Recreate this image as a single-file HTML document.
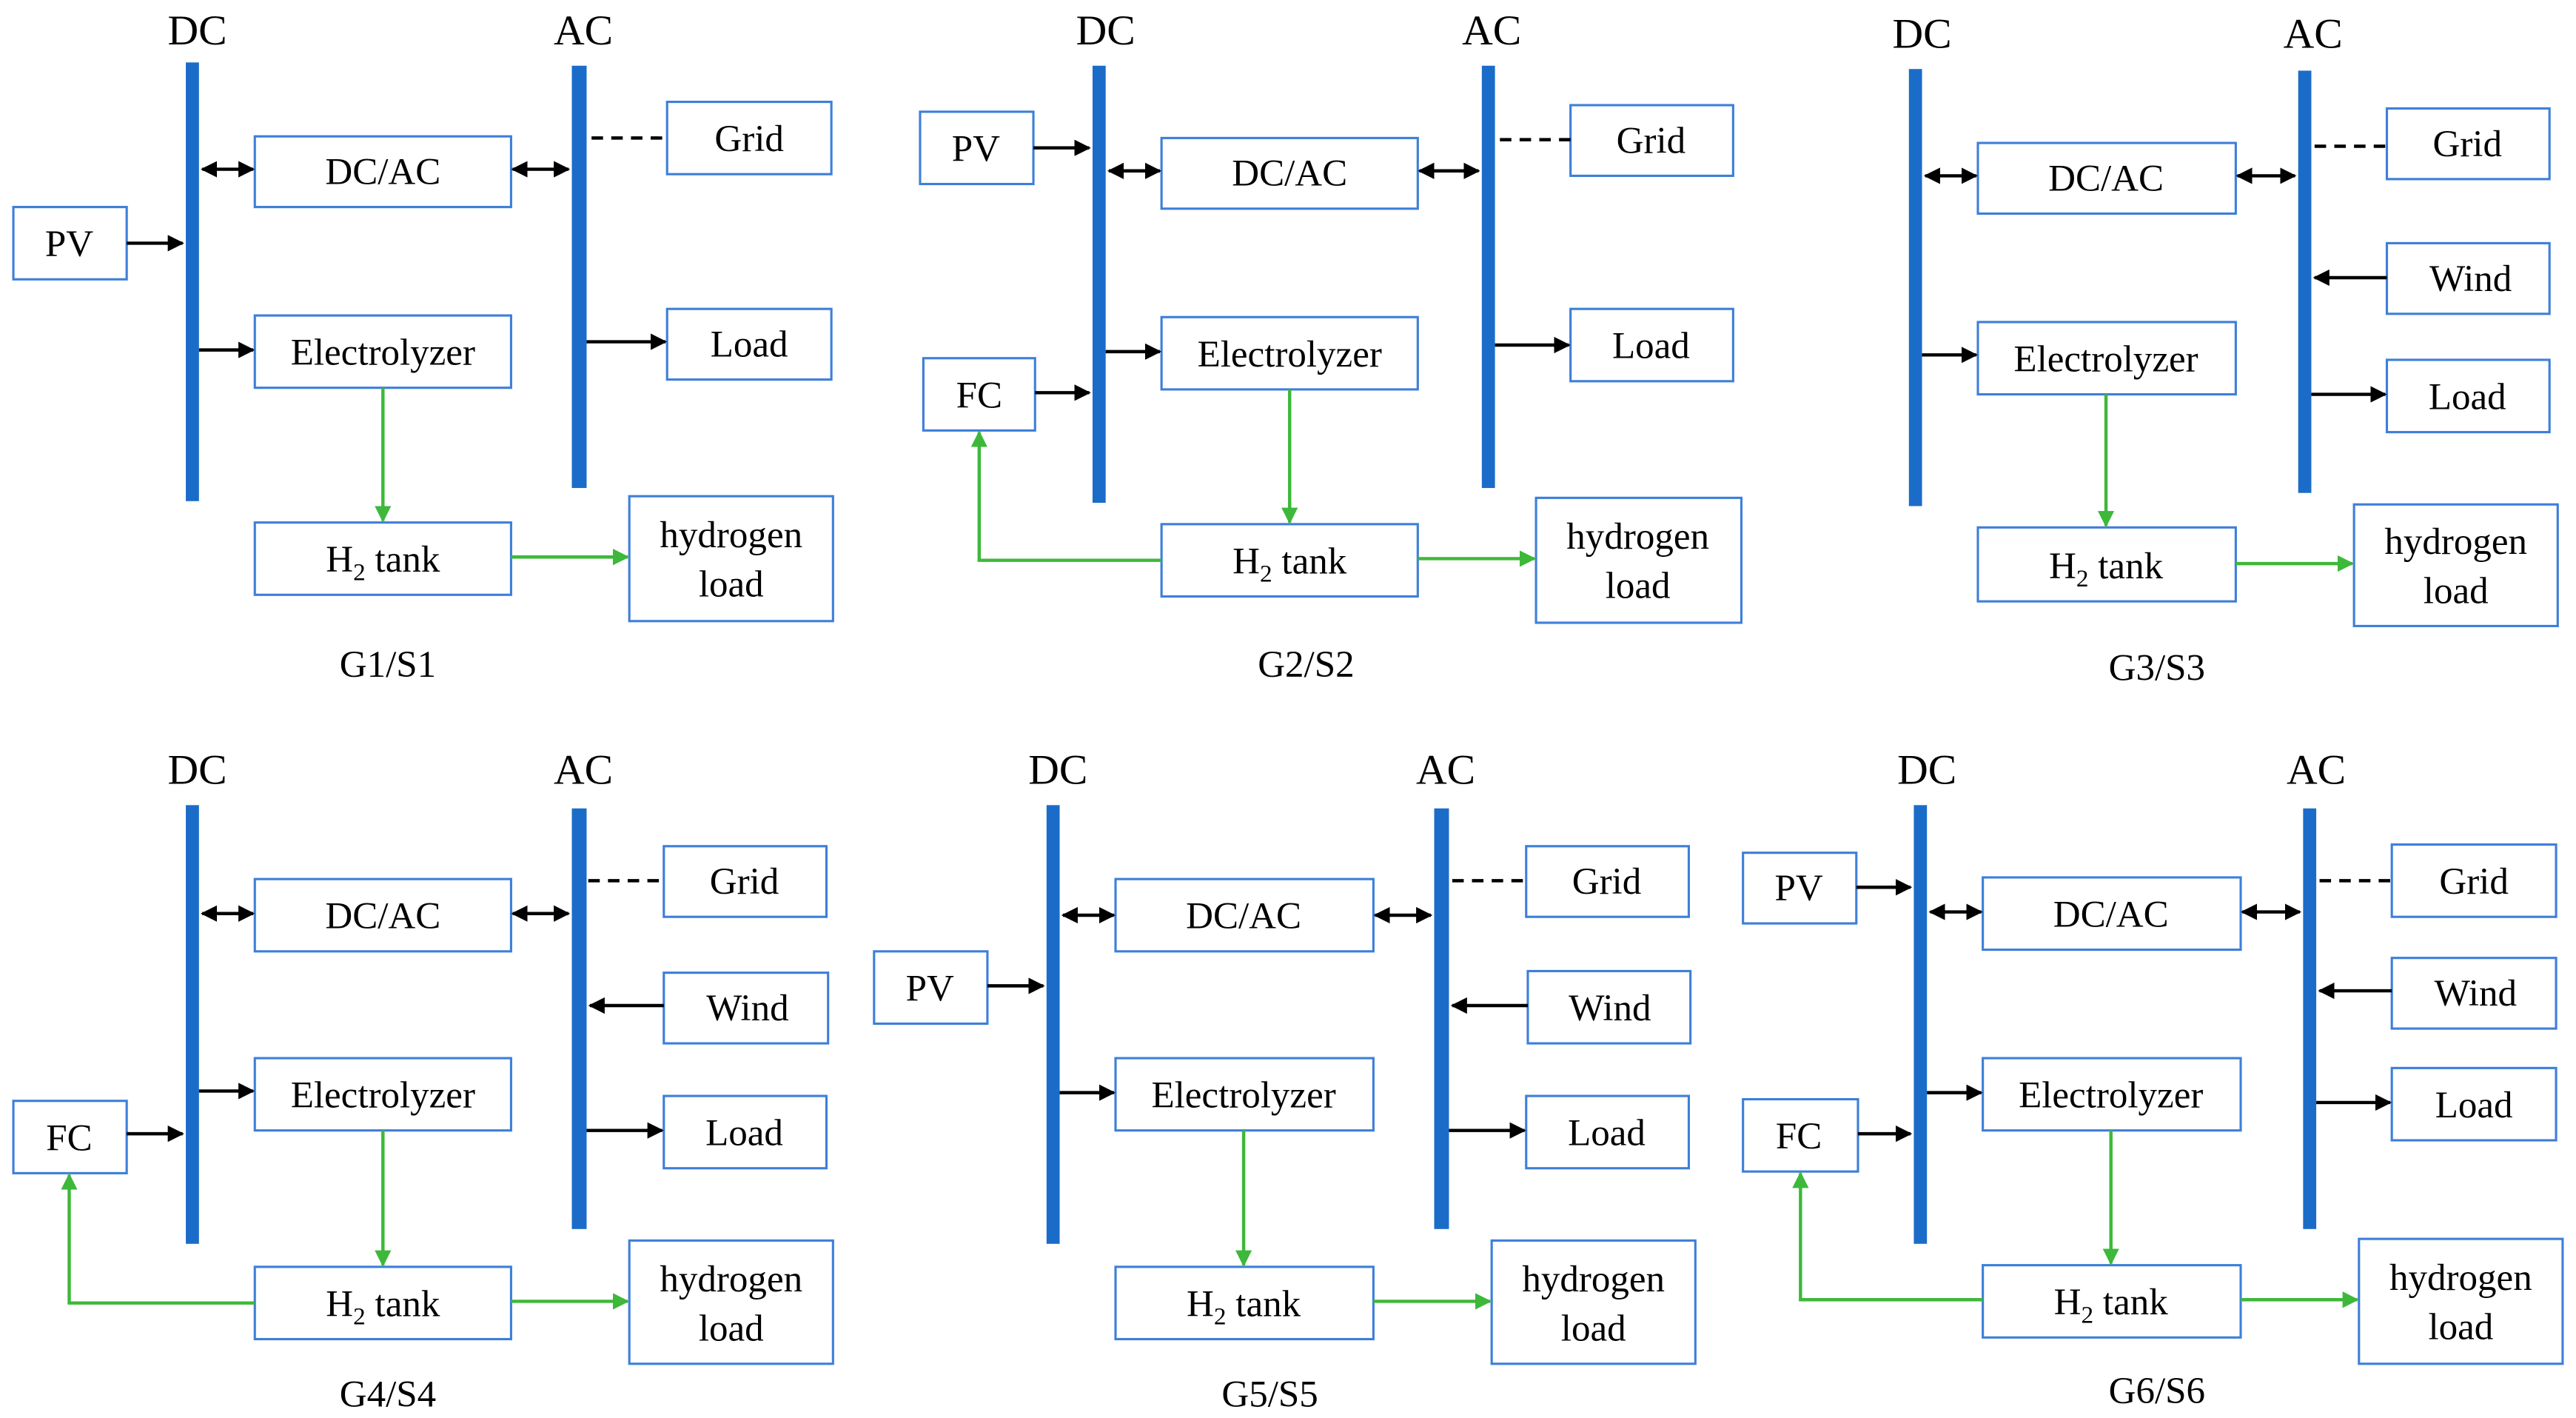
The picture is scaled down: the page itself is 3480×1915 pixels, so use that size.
<!DOCTYPE html>
<html><head><meta charset="utf-8"><style>
html,body{margin:0;padding:0;background:#fff;}
svg{display:block;font-family:"Liberation Serif","Times New Roman","DejaVu Serif",serif;}
svg text{font-family:"Liberation Serif","Times New Roman","DejaVu Serif",serif;fill:#000;}
.b{fill:#fff;stroke:#3d7fd9;stroke-width:1.4;}
.bar{fill:#1b6cc9;}
.t{font-size:23px;text-anchor:middle;}
.h{font-size:26px;text-anchor:middle;}
.k{stroke:#000;stroke-width:2;fill:none;}
.kd{stroke:#000;stroke-width:2;fill:none;stroke-dasharray:7,5;}
.g{stroke:#3db83a;stroke-width:2;fill:none;}
</style></head><body>
<svg width="3480" height="1915" viewBox="0 0 1568 863" xmlns="http://www.w3.org/2000/svg" font-family="Liberation Serif, Times New Roman, serif">
<defs>
<marker id="a" viewBox="0 0 10 10" refX="9" refY="5" markerWidth="5" markerHeight="5" orient="auto-start-reverse" markerUnits="strokeWidth"><path d="M0,0 L10,5 L0,10 Z" fill="#000"/></marker>
<marker id="ga" viewBox="0 0 10 10" refX="9" refY="5" markerWidth="5" markerHeight="5" orient="auto-start-reverse" markerUnits="strokeWidth"><path d="M0,0 L10,5 L0,10 Z" fill="#3db83a"/></marker>
</defs>

<!-- Panel 1 -->
<text class="h" x="120" y="27">DC</text><text class="h" x="355" y="27">AC</text>
<rect class="bar" x="113" y="38" width="8" height="267"/><rect class="bar" x="348" y="40" width="9" height="257"/>
<rect class="b" x="8" y="126" width="69" height="44"/><text class="t" x="42" y="156">PV</text>
<path class="k" d="M77 148 H111" marker-end="url(#a)"/>
<rect class="b" x="155" y="83" width="156" height="43"/><text class="t" x="233" y="112">DC/AC</text>
<path class="k" d="M123 103 H154" marker-start="url(#a)" marker-end="url(#a)"/>
<path class="k" d="M312 103 H346" marker-start="url(#a)" marker-end="url(#a)"/>
<rect class="b" x="406" y="62" width="100" height="44"/><text class="t" x="456" y="92">Grid</text>
<path class="kd" d="M360 84 H406"/>
<rect class="b" x="155" y="192" width="156" height="44"/><text class="t" x="233" y="222">Electrolyzer</text>
<path class="k" d="M121 213 H154" marker-end="url(#a)"/>
<rect class="b" x="406" y="188" width="100" height="43"/><text class="t" x="456" y="217">Load</text>
<path class="k" d="M357 208 H405" marker-end="url(#a)"/>
<rect class="b" x="155" y="318" width="156" height="44"/><text class="t" x="233" y="348">H<tspan font-size="15" dy="5">2</tspan><tspan dy="-5"> tank</tspan></text>
<path class="g" d="M233 236 V317" marker-end="url(#ga)"/>
<rect class="b" x="383" y="302" width="124" height="76"/><text class="t" x="445" y="333">hydrogen</text><text class="t" x="445" y="363">load</text>
<path class="g" d="M311 339 H382" marker-end="url(#ga)"/>
<text class="t" x="236" y="412">G1/S1</text>

<!-- Panel 2 -->
<text class="h" x="673" y="27">DC</text><text class="h" x="908" y="27">AC</text>
<rect class="bar" x="665" y="40" width="8" height="266"/><rect class="bar" x="902" y="40" width="8" height="257"/>
<rect class="b" x="560" y="68" width="69" height="44"/><text class="t" x="594" y="98">PV</text>
<path class="k" d="M629 90 H663" marker-end="url(#a)"/>
<rect class="b" x="707" y="84" width="156" height="43"/><text class="t" x="785" y="113">DC/AC</text>
<path class="k" d="M675 104 H706" marker-start="url(#a)" marker-end="url(#a)"/>
<path class="k" d="M864 104 H900" marker-start="url(#a)" marker-end="url(#a)"/>
<rect class="b" x="956" y="64" width="99" height="43"/><text class="t" x="1005" y="93">Grid</text>
<path class="kd" d="M913 85 H956"/>
<rect class="b" x="707" y="193" width="156" height="44"/><text class="t" x="785" y="223">Electrolyzer</text>
<path class="k" d="M673 214 H706" marker-end="url(#a)"/>
<rect class="b" x="956" y="188" width="99" height="44"/><text class="t" x="1005" y="218">Load</text>
<path class="k" d="M910 210 H955" marker-end="url(#a)"/>
<rect class="b" x="562" y="218" width="68" height="44"/><text class="t" x="596" y="248">FC</text>
<path class="k" d="M630 239 H663" marker-end="url(#a)"/>
<rect class="b" x="707" y="319" width="156" height="44"/><text class="t" x="785" y="349">H<tspan font-size="15" dy="5">2</tspan><tspan dy="-5"> tank</tspan></text>
<path class="g" d="M785 237 V318" marker-end="url(#ga)"/>
<path class="g" d="M707 341 H596 V263" marker-end="url(#ga)"/>
<rect class="b" x="935" y="303" width="125" height="76"/><text class="t" x="997" y="334">hydrogen</text><text class="t" x="997" y="364">load</text>
<path class="g" d="M863 340 H934" marker-end="url(#ga)"/>
<text class="t" x="795" y="412">G2/S2</text>

<!-- Panel 3 -->
<text class="h" x="1170" y="29">DC</text><text class="h" x="1408" y="29">AC</text>
<rect class="bar" x="1162" y="42" width="8" height="266"/><rect class="bar" x="1399" y="43" width="8" height="257"/>
<rect class="b" x="1204" y="87" width="157" height="43"/><text class="t" x="1282" y="116">DC/AC</text>
<path class="k" d="M1172 107 H1203" marker-start="url(#a)" marker-end="url(#a)"/>
<path class="k" d="M1362 107 H1397" marker-start="url(#a)" marker-end="url(#a)"/>
<rect class="b" x="1453" y="66" width="99" height="43"/><text class="t" x="1502" y="95">Grid</text>
<path class="kd" d="M1409 89 H1453"/>
<rect class="b" x="1453" y="148" width="99" height="43"/><text class="t" x="1504" y="177">Wind</text>
<path class="k" d="M1453 169 H1409" marker-end="url(#a)"/>
<rect class="b" x="1453" y="219" width="99" height="44"/><text class="t" x="1502" y="249">Load</text>
<path class="k" d="M1407 240 H1452" marker-end="url(#a)"/>
<rect class="b" x="1204" y="196" width="157" height="44"/><text class="t" x="1282" y="226">Electrolyzer</text>
<path class="k" d="M1170 216 H1203" marker-end="url(#a)"/>
<rect class="b" x="1204" y="321" width="157" height="45"/><text class="t" x="1282" y="352">H<tspan font-size="15" dy="5">2</tspan><tspan dy="-5"> tank</tspan></text>
<path class="g" d="M1282 240 V320" marker-end="url(#ga)"/>
<rect class="b" x="1433" y="307" width="124" height="74"/><text class="t" x="1495" y="337">hydrogen</text><text class="t" x="1495" y="367">load</text>
<path class="g" d="M1361 343 H1432" marker-end="url(#ga)"/>
<text class="t" x="1313" y="414">G3/S3</text>

<!-- Panel 4 -->
<text class="h" x="120" y="477">DC</text><text class="h" x="355" y="477">AC</text>
<rect class="bar" x="113" y="490" width="8" height="267"/><rect class="bar" x="348" y="492" width="9" height="256"/>
<rect class="b" x="155" y="535" width="156" height="44"/><text class="t" x="233" y="565">DC/AC</text>
<path class="k" d="M123 556 H154" marker-start="url(#a)" marker-end="url(#a)"/>
<path class="k" d="M312 556 H346" marker-start="url(#a)" marker-end="url(#a)"/>
<rect class="b" x="404" y="515" width="99" height="43"/><text class="t" x="453" y="544">Grid</text>
<path class="kd" d="M358 536 H404"/>
<rect class="b" x="404" y="592" width="100" height="43"/><text class="t" x="455" y="621">Wind</text>
<path class="k" d="M404 612 H359" marker-end="url(#a)"/>
<rect class="b" x="404" y="667" width="99" height="44"/><text class="t" x="453" y="697">Load</text>
<path class="k" d="M357 688 H403" marker-end="url(#a)"/>
<rect class="b" x="155" y="644" width="156" height="44"/><text class="t" x="233" y="674">Electrolyzer</text>
<path class="k" d="M121 664 H154" marker-end="url(#a)"/>
<rect class="b" x="8" y="670" width="69" height="44"/><text class="t" x="42" y="700">FC</text>
<path class="k" d="M77 690 H111" marker-end="url(#a)"/>
<rect class="b" x="155" y="771" width="156" height="44"/><text class="t" x="233" y="801">H<tspan font-size="15" dy="5">2</tspan><tspan dy="-5"> tank</tspan></text>
<path class="g" d="M233 688 V770" marker-end="url(#ga)"/>
<path class="g" d="M155 793 H42 V715" marker-end="url(#ga)"/>
<rect class="b" x="383" y="755" width="124" height="75"/><text class="t" x="445" y="786">hydrogen</text><text class="t" x="445" y="816">load</text>
<path class="g" d="M311 792 H382" marker-end="url(#ga)"/>
<text class="t" x="236" y="856">G4/S4</text>

<!-- Panel 5 -->
<text class="h" x="644" y="477">DC</text><text class="h" x="880" y="477">AC</text>
<rect class="bar" x="637" y="490" width="8" height="267"/><rect class="bar" x="873" y="492" width="9" height="256"/>
<rect class="b" x="532" y="579" width="69" height="44"/><text class="t" x="566" y="609">PV</text>
<path class="k" d="M601 600 H635" marker-end="url(#a)"/>
<rect class="b" x="679" y="535" width="157" height="44"/><text class="t" x="757" y="565">DC/AC</text>
<path class="k" d="M647 557 H678" marker-start="url(#a)" marker-end="url(#a)"/>
<path class="k" d="M837 557 H871" marker-start="url(#a)" marker-end="url(#a)"/>
<rect class="b" x="929" y="515" width="99" height="43"/><text class="t" x="978" y="544">Grid</text>
<path class="kd" d="M884 536 H929"/>
<rect class="b" x="930" y="591" width="99" height="44"/><text class="t" x="980" y="621">Wind</text>
<path class="k" d="M930 612 H884" marker-end="url(#a)"/>
<rect class="b" x="929" y="667" width="99" height="44"/><text class="t" x="978" y="697">Load</text>
<path class="k" d="M882 688 H928" marker-end="url(#a)"/>
<rect class="b" x="679" y="644" width="157" height="44"/><text class="t" x="757" y="674">Electrolyzer</text>
<path class="k" d="M645 665 H678" marker-end="url(#a)"/>
<rect class="b" x="679" y="771" width="157" height="44"/><text class="t" x="757" y="801">H<tspan font-size="15" dy="5">2</tspan><tspan dy="-5"> tank</tspan></text>
<path class="g" d="M757 688 V770" marker-end="url(#ga)"/>
<rect class="b" x="908" y="755" width="124" height="75"/><text class="t" x="970" y="786">hydrogen</text><text class="t" x="970" y="816">load</text>
<path class="g" d="M836 792 H907" marker-end="url(#ga)"/>
<text class="t" x="773" y="856">G5/S5</text>

<!-- Panel 6 -->
<text class="h" x="1173" y="477">DC</text><text class="h" x="1410" y="477">AC</text>
<rect class="bar" x="1165" y="490" width="8" height="267"/><rect class="bar" x="1402" y="492" width="8" height="256"/>
<rect class="b" x="1061" y="519" width="69" height="43"/><text class="t" x="1095" y="548">PV</text>
<path class="k" d="M1130 540 H1163" marker-end="url(#a)"/>
<rect class="b" x="1207" y="534" width="157" height="44"/><text class="t" x="1285" y="564">DC/AC</text>
<path class="k" d="M1175 555 H1206" marker-start="url(#a)" marker-end="url(#a)"/>
<path class="k" d="M1365 555 H1400" marker-start="url(#a)" marker-end="url(#a)"/>
<rect class="b" x="1456" y="514" width="100" height="44"/><text class="t" x="1506" y="544">Grid</text>
<path class="kd" d="M1412 536 H1456"/>
<rect class="b" x="1456" y="583" width="100" height="43"/><text class="t" x="1507" y="612">Wind</text>
<path class="k" d="M1456 603 H1412" marker-end="url(#a)"/>
<rect class="b" x="1456" y="650" width="100" height="44"/><text class="t" x="1506" y="680">Load</text>
<path class="k" d="M1410 671 H1455" marker-end="url(#a)"/>
<rect class="b" x="1207" y="644" width="157" height="44"/><text class="t" x="1285" y="674">Electrolyzer</text>
<path class="k" d="M1173 665 H1206" marker-end="url(#a)"/>
<rect class="b" x="1061" y="669" width="70" height="44"/><text class="t" x="1095" y="699">FC</text>
<path class="k" d="M1131 690 H1163" marker-end="url(#a)"/>
<rect class="b" x="1207" y="770" width="157" height="44"/><text class="t" x="1285" y="800">H<tspan font-size="15" dy="5">2</tspan><tspan dy="-5"> tank</tspan></text>
<path class="g" d="M1285 688 V769" marker-end="url(#ga)"/>
<path class="g" d="M1207 791 H1096 V714" marker-end="url(#ga)"/>
<rect class="b" x="1436" y="754" width="124" height="76"/><text class="t" x="1498" y="785">hydrogen</text><text class="t" x="1498" y="815">load</text>
<path class="g" d="M1364 791 H1435" marker-end="url(#ga)"/>
<text class="t" x="1313" y="854">G6/S6</text>
</svg>
</body></html>
